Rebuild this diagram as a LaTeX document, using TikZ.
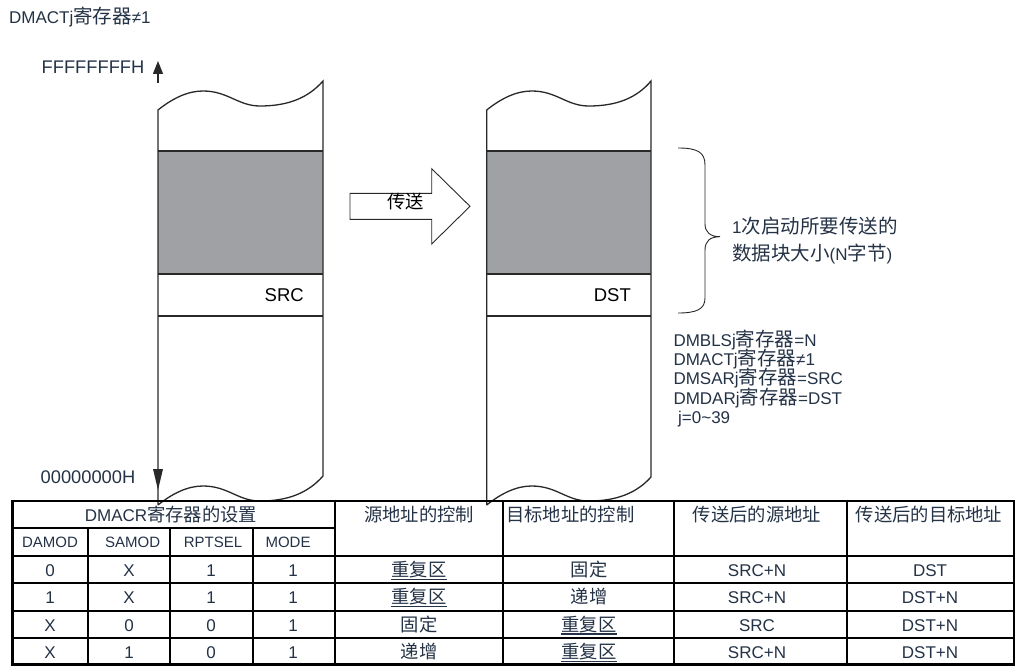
\documentclass[tikz,border=0pt]{standalone}
\usepackage{fontspec}
\setmainfont{Liberation Sans}
\newfontfamily\cjk{Noto Sans CJK SC}
\usetikzlibrary{arrows.meta}
\definecolor{txt}{RGB}{36,50,70}
\definecolor{band}{RGB}{160,161,165}
\definecolor{edge}{RGB}{40,40,40}
\newcommand\zhL[1]{{\cjk\fontsize{19.5}{20}\selectfont #1}}
\newcommand\zhT[1]{{\cjk\fontsize{18.3}{20}\selectfont #1}}
\begin{document}
\begin{tikzpicture}[x=1pt,y=-1pt,
  lbl/.style={text=txt,inner sep=0pt,font=\fontsize{17}{19}\selectfont},
  big/.style={text=txt,inner sep=0pt,font=\fontsize{18.3}{20}\selectfont},
  memtxt/.style={text=black,inner sep=0pt,font=\fontsize{18.5}{20}\selectfont},
  cell/.style={text=txt,inner sep=0pt,font=\fontsize{17}{20}\selectfont},
  subh/.style={text=txt,inner sep=0pt,font=\fontsize{15}{16}\selectfont},
  mem/.style={draw=edge,line width=1.3pt,line join=miter},
  thinline/.style={draw=edge,line width=0.9pt},
  grid/.style={draw=black,line width=2pt},
  ul/.style={draw=txt,line width=1.2pt}]
\useasboundingbox (0,0) rectangle (1016,666);

% top labels
\node[lbl,anchor=base west] (title) at (9,24) {DMACTj\zhL{寄存器}≠1};
\node[big,anchor=base west] (ftop) at (41.5,73.3) {FFFFFFFFH};
\node[big,anchor=base west] (fbot) at (40.5,483.3) {00000000H};

% source memory column
\begin{scope}[shift={(158,0)}]
  \fill[band] (0,151) rectangle (165,274);
  \draw[mem] (0,151) -- (165,151) (0,274) -- (165,274) (0,316) -- (165,316);
  \draw[mem] (0,505) -- (0,110)
    .. controls (15,98) and (30,91) .. (45,91)
    .. controls (70,91) and (80,106) .. (102,106)
    .. controls (130,106) and (150,98) .. (165,81)
    -- (165,476)
    .. controls (150,493) and (130,501) .. (102,501)
    .. controls (80,501) and (70,486) .. (45,486)
    .. controls (30,486) and (15,493) .. (0,505);
\end{scope}
% destination memory column
\begin{scope}[shift={(486.7,0)}]
  \fill[band] (0,151) rectangle (164.3,274);
  \draw[mem] (0,151) -- (164.3,151) (0,274) -- (164.3,274) (0,316) -- (164.3,316);
  \draw[mem] (0,505) -- (0,110)
    .. controls (15,98) and (30,91) .. (45,91)
    .. controls (70,91) and (80,106) .. (102,106)
    .. controls (130,106) and (150,98) .. (164.3,81)
    -- (164.3,477)
    .. controls (150,493) and (130,501) .. (102,501)
    .. controls (80,501) and (70,486) .. (45,486)
    .. controls (30,486) and (15,493) .. (0,505);
\end{scope}

% address axis arrows
\draw[edge,line width=1.3pt,-{Triangle[length=13pt,width=10pt]}] (158,83) -- (158,61);
\fill[edge] (153,469) -- (163,469) -- (158,490) -- cycle;

\node[memtxt,anchor=base east] (src) at (304,301.7) {SRC};
\node[memtxt,anchor=base east] (dst) at (631,301.7) {DST};

% transfer arrow
\draw[thinline,fill=white] (350,193.3) -- (431.7,193.3) -- (431.7,168.7) -- (470,206.3)
  -- (431.7,244) -- (431.7,219.3) -- (350,219.3) -- cycle;
\node[inner sep=0pt,text=black] (xfer) at (405.5,201.7) {\zhT{传送}};

% brace
\draw[thinline] (678,148) .. controls (697,148) and (705,152) .. (705,165) -- (705,224)
  .. controls (705,232) and (710,236.7) .. (720,236.7)
  .. controls (710,236.7) and (705,241) .. (705,250) -- (705,298)
  .. controls (705,309) and (697,313) .. (678,313);
\node[lbl,anchor=base west] (bsz1) at (732,233.3) {1\zhL{次启动所要传送的}};
\node[lbl,anchor=base west] (bsz2) at (732,260) {\zhL{数据块大小}(N\zhL{字节})};

% register settings
\node[lbl,anchor=base west] (reg1) at (673.3,346.5) {DMBLSj\zhL{寄存器}=N};
\node[lbl,anchor=base west] (reg2) at (673.3,365.7) {DMACTj\zhL{寄存器}≠1};
\node[lbl,anchor=base west] (reg3) at (673.3,384.9) {DMSARj\zhL{寄存器}=SRC};
\node[lbl,anchor=base west] (reg4) at (673.3,404.1) {DMDARj\zhL{寄存器}=DST};
\node[lbl,anchor=base west] (reg5) at (678,423.3) {j=0\textasciitilde 39};

% table grid
\draw[grid] (12.5,528) -- (335,528);
\foreach \yy in {556,583,611,638} \draw[grid] (12.5,\yy) -- (1014,\yy);
\foreach \xx in {88,170,253} \draw[grid] (\xx,528) -- (\xx,664.5);
\foreach \xx in {335,503,674,847} \draw[grid] (\xx,501) -- (\xx,664.5);
\draw[black,line width=2.5pt] (12.5,501) rectangle (1014,664.5);

% table header
\node[cell,anchor=base] (h1) at (171,521.7) {DMACR\zhT{寄存器的设置}};
\node[subh,anchor=base] (h1a) at (50,547.7) {DAMOD};
\node[subh,anchor=base] (h1b) at (132.7,547.7) {SAMOD};
\node[subh,anchor=base] (h1c) at (213,547.7) {RPTSEL};
\node[subh,anchor=base] (h1d) at (288,547.7) {MODE};
\node[cell,anchor=base] (h2) at (419,521.7) {\zhT{源地址的控制}};
\node[cell,anchor=base west] (h3) at (506,521.7) {\zhT{目标地址的控制}};
\node[cell,anchor=base] (h4) at (757,521.7) {\zhT{传送后的源地址}};
\node[cell,anchor=base] (h5) at (929,521.7) {\zhT{传送后的目标地址}};

% table body
\foreach \yy/\i/\a/\b/\c/\d/\e/\f/\g/\h in {
  576.5/1/0/X/1/1/\zhT{重复区}/\zhT{固定}/SRC+N/DST,
  603.5/2/1/X/1/1/\zhT{重复区}/\zhT{递增}/SRC+N/DST+N,
  631/3/X/0/0/1/\zhT{固定}/\zhT{重复区}/SRC/DST+N,
  658.5/4/X/1/0/1/\zhT{递增}/\zhT{重复区}/SRC+N/DST+N} {
  \node[cell,anchor=base] (r\i-1) at (50,\yy) {\a};
  \node[cell,anchor=base] (r\i-2) at (129,\yy) {\b};
  \node[cell,anchor=base] (r\i-3) at (211,\yy) {\c};
  \node[cell,anchor=base] (r\i-4) at (293,\yy) {\d};
  \node[cell,anchor=base] (r\i-5) at (419,\yy) {\e};
  \node[cell,anchor=base] (r\i-6) at (589,\yy) {\f};
  \node[cell,anchor=base] (r\i-7) at (757,\yy) {\g};
  \node[cell,anchor=base] (r\i-8) at (930,\yy) {\h};
}
% underlines of the repeat-area cells
\foreach \n in {r1-5,r2-5,r3-6,r4-6}
  \draw[ul] ([yshift=-3pt]\n.base west) -- ([yshift=-3pt]\n.base east);
\end{tikzpicture}
\end{document}
